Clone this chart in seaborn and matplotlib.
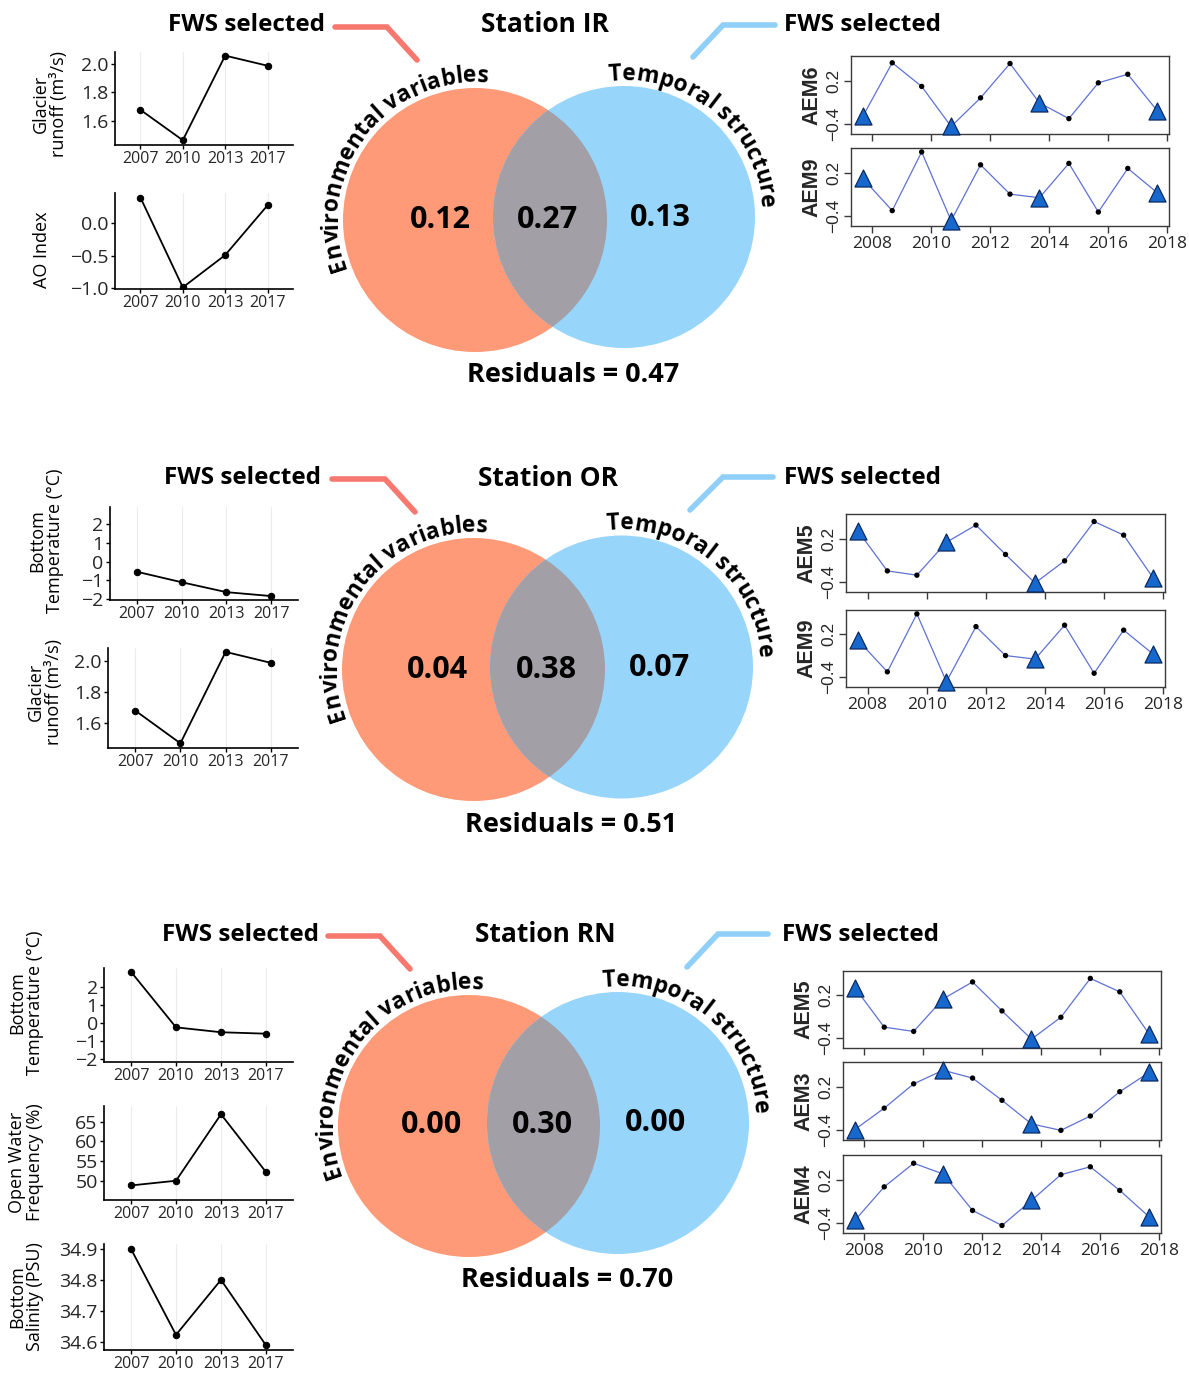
import numpy as np
import pandas as pd
import matplotlib
matplotlib.use("Agg")
import matplotlib.pyplot as plt
import seaborn as sns
from matplotlib.patches import Circle
from matplotlib.font_manager import FontProperties, findfont
from matplotlib.ft2font import FT2Font

sns.set_theme(style="white")
plt.rcParams["font.family"] = ["Open Sans", "DejaVu Sans"]
plt.rcParams["axes.unicode_minus"] = True

W, H = 1189, 1373
fig = plt.figure(figsize=(W / 100, H / 100), dpi=100)
fig.patch.set_facecolor("white")

# ---------------- data ----------------
env_years = ["2007", "2010", "2013", "2017"]
ir_glacier = [1.68, 1.47, 2.055, 1.985]
ir_ao = [0.40, -0.99, -0.49, 0.28]
or_temp = [-0.54, -1.10, -1.63, -1.84]
or_glacier = [1.68, 1.47, 2.055, 1.985]
rn_temp = [2.82, -0.24, -0.51, -0.59]
rn_openwater = [48.8, 50.0, 66.9, 52.2]
rn_salinity = [34.90, 34.622, 34.80, 34.588]

aem_years = [2007.67, 2008.67, 2009.67, 2010.67, 2011.67, 2012.67,
             2013.67, 2014.67, 2015.67, 2016.67, 2017.67]
aem_selected = [True, False, False, True, False, False, True, False, False, False, True]
aem6 = [-0.30, 0.45, 0.12, -0.44, -0.04, 0.44, -0.11, -0.33, 0.17, 0.29, -0.22]
aem9 = [0.12, -0.33, 0.49, -0.47, 0.31, -0.10, -0.15, 0.33, -0.35, 0.26, -0.08]
aem5 = [0.31, -0.25, -0.31, 0.15, 0.39, -0.02, -0.42, -0.11, 0.44, 0.25, -0.35]
aem3 = [-0.40, -0.10, 0.24, 0.43, 0.32, 0.01, -0.32, -0.41, -0.21, 0.13, 0.40]
aem4 = [-0.37, 0.10, 0.43, 0.28, -0.23, -0.44, -0.09, 0.27, 0.38, 0.05, -0.32]

stations = ["IR", "OR", "RN"]
env_only = [0.12, 0.04, 0.00]
shared = [0.27, 0.38, 0.30]
temporal_only = [0.13, 0.07, 0.00]
residuals = [0.47, 0.51, 0.70]

# ---------------- overlay (Venn + labels) ----------------
ax0 = fig.add_axes([0, 0, 1, 1])
ax0.set_xlim(0, W)
ax0.set_ylim(H, 0)
ax0.axis("off")

# ---------------- helpers ----------------
def px_rect(l, t, r, b):
    return [l / W, 1 - b / H, (r - l) / W, (b - t) / H]

MINUS = "\u2212"

def fmt(v, d):
    s = f"{v:.{d}f}"
    return s.replace("-", MINUS)

def env_panel(rect, vals, ylabel, ylim, yticks, ydec, label_xy):
    ax = fig.add_axes(px_rect(*rect))
    x = [0, 1, 2, 3]
    for xi in x:
        ax.axvline(xi, color="#ECECEC", lw=0.8, zorder=0)
    sns.lineplot(x=x, y=vals, ax=ax, color="black", lw=1.3, marker="o",
                 markersize=4.6, markeredgecolor="black", zorder=3)
    ax.set_xlim(-0.6, 3.6)
    ax.set_ylim(*ylim)
    ax.set_xticks(x, env_years, fontsize=11.5)
    ax.set_yticks(yticks, [fmt(v, ydec) for v in yticks], fontsize=14)
    for s in ["top", "right"]:
        ax.spines[s].set_visible(False)
    for s in ["left", "bottom"]:
        ax.spines[s].set_color("black")
        ax.spines[s].set_linewidth(1.2)
    ax.tick_params(axis="both", length=3, width=1, color="black", pad=1.5,
                   left=True, bottom=True)
    ax.set_xlabel("")
    ax.set_ylabel("")
    ax.grid(False)
    ax0.text(label_xy[0], label_xy[1], ylabel, rotation=90, ha="center", va="center",
             multialignment="center", fontsize=13, linespacing=1.0, color="black")
    return ax

def aem_panel(rect, vals, label, show_x):
    ax = fig.add_axes(px_rect(*rect))
    df = pd.DataFrame({"year": aem_years, "val": vals, "sel": aem_selected})
    sns.lineplot(data=df, x="year", y="val", ax=ax, color="#5E72D4", lw=0.9, zorder=2)
    sns.scatterplot(data=df[~df["sel"]], x="year", y="val", ax=ax, color="black",
                    s=15, edgecolor="none", zorder=3)
    sns.scatterplot(data=df[df["sel"]], x="year", y="val", ax=ax, marker="^",
                    s=150, color="#1768CC", edgecolor="#0B2A63", linewidth=0.9,
                    zorder=4, clip_on=False)
    ax.set_xlim(2007.27, 2018.07)
    ax.set_ylim(-0.545, 0.545)
    xt = [2008, 2010, 2012, 2014, 2016, 2018]
    ax.set_xticks(xt)
    if show_x:
        ax.set_xticklabels([str(v) for v in xt], fontsize=12.5)
    else:
        ax.set_xticklabels([])
    ax.set_yticks([-0.4, 0.2])
    ax.set_yticklabels([MINUS + "0.4", "0.2"], rotation=90, va="center",
                       fontsize=12.5, family=["Liberation Sans", "DejaVu Sans"])
    ax.set_xlabel("")
    ax.set_ylabel(label, fontsize=15.5, fontweight="bold",
                  family=["Liberation Sans", "DejaVu Sans"], labelpad=3)
    for s in ax.spines.values():
        s.set_visible(True)
        s.set_color("#3a3a3a")
        s.set_linewidth(1.0)
    ax.tick_params(axis="both", direction="out", length=5, width=1,
                   color="#3a3a3a", left=True, bottom=True, pad=2)
    ax.grid(False)
    ax.set_facecolor("white")
    return ax

ORANGE = "#FE9A77"
BLUE = "#98D5FB"
GRAY = "#A29FA6"
RED_LINE = "#F7786E"
BLUE_LINE = "#8FCFF8"

def char_advances(text, fp, fs):
    font = FT2Font(findfont(fp))
    font.set_size(fs, 100)
    out = []
    for ch in text:
        g = font.load_char(ord(ch))
        a = g.linearHoriAdvance / 65536.0
        if a <= 0 or a > fs * 3:
            a = g.horiAdvance / 64.0
        out.append(a)
    return out

def curved_text(text, cx, cy, R, center_deg, fs):
    fp = FontProperties(family="Open Sans", weight="bold", size=fs)
    advs = char_advances(text, fp, fs)
    total = sum(advs)
    pos = 0.0
    for ch, a in zip(text, advs):
        s = pos + a / 2 - total / 2
        th = np.deg2rad(center_deg) - s / R
        x = cx + R * np.cos(th)
        y = cy - R * np.sin(th)
        if ch.strip():
            ax0.text(x, y, ch, rotation=np.rad2deg(th) - 90, ha="center",
                     va="baseline", rotation_mode="anchor", fontproperties=fp,
                     color="black")
        pos += a

venn_layout = [
    dict(ec=(475, 220, 132), tc=(624, 217, 131), nums=((440, 220), (548, 220), (660, 218)),
         title=(545, 25), resid=(573, 375), fws_l=(246, 25), fws_r=(863, 25),
         red=((335, 27), (387, 27), (417, 60)), blue=((775, 25), (723, 25), (693, 57))),
    dict(ec=(473.5, 669.5, 131.5), tc=(621.5, 667, 131.5), nums=((437, 670), (546, 670), (659, 668)),
         title=(548, 478), resid=(571, 825), fws_l=(243, 478), fws_r=(862, 478),
         red=((332, 479), (385, 479), (415, 512)), blue=((773, 477), (723, 477), (690, 510))),
    dict(ec=(469, 1126, 131), tc=(618, 1123, 131), nums=((432, 1125), (542, 1125), (656, 1123)),
         title=(545, 935), resid=(567, 1280), fws_l=(240, 935), fws_r=(860, 935),
         red=((328, 936), (380, 936), (410, 969)), blue=((768, 934), (718, 934), (687, 967))),
]

for i, st in enumerate(stations):
    L = venn_layout[i]
    ecx, ecy, er = L["ec"]
    tcx, tcy, tr = L["tc"]
    c1 = Circle((ecx, ecy), er, facecolor=ORANGE, edgecolor="none", zorder=1)
    c2 = Circle((tcx, tcy), tr, facecolor=BLUE, edgecolor="none", zorder=1)
    ax0.add_patch(c1)
    ax0.add_patch(c2)
    c3 = Circle((tcx, tcy), tr, facecolor=GRAY, edgecolor="none", zorder=2)
    ax0.add_patch(c3)
    c3.set_clip_path(c1)
    vals = [env_only[i], shared[i], temporal_only[i]]
    for (x, y), v in zip(L["nums"], vals):
        ax0.text(x, y, f"{v:.2f}", ha="center", va="center", fontsize=22,
                 fontweight="bold", color="black", zorder=5)
    ax0.text(*L["title"], f"Station {st}", ha="center", va="center", fontsize=19,
             fontweight="bold", color="black")
    ax0.text(*L["resid"], f"Residuals = {residuals[i]:.2f}", ha="center", va="center",
             fontsize=19.5, fontweight="bold", color="black")
    ax0.text(*L["fws_l"], "FWS selected", ha="center", va="center", fontsize=17.5,
             fontweight="bold", color="black")
    ax0.text(*L["fws_r"], "FWS selected", ha="center", va="center", fontsize=17.5,
             fontweight="bold", color="black")
    rx, ry = zip(*L["red"])
    ax0.plot(rx, ry, color=RED_LINE, lw=4, solid_capstyle="round", solid_joinstyle="miter")
    bx, by = zip(*L["blue"])
    ax0.plot(bx, by, color=BLUE_LINE, lw=4, solid_capstyle="round", solid_joinstyle="miter")
    curved_text("Environmental variables", ecx, ecy, er + 6, 142.5, 16.5)
    curved_text("Temporal structure", tcx, tcy, tr + 6, 50, 16.5)

# ---------------- left panels ----------------
env_panel((115, 52, 293, 145), ir_glacier, "Glacier\nrunoff (m³/s)", (1.437, 2.08), [1.6, 1.8, 2.0], 1, (50, 104))
env_panel((115, 193, 293, 289), ir_ao, "AO Index", (-1.015, 0.47), [-1.0, -0.5, 0.0], 1, (42, 250))
env_panel((110, 507, 298, 600), or_temp, "Bottom\nTemperature (°C)", (-2.05, 2.92), [-2, -1, 0, 1, 2], 0, (46, 541))
env_panel((108, 648, 298, 748), or_glacier, "Glacier\nrunoff (m³/s)", (1.44, 2.08), [1.6, 1.8, 2.0], 1, (45, 692))
env_panel((104, 968, 293, 1062), rn_temp, "Bottom\nTemperature (°C)", (-2.15, 3.03), [-2, -1, 0, 1, 2], 0, (26, 1003))
env_panel((104, 1106, 293, 1200), rn_openwater, "Open Water\nFrequency (%)", (45.1, 69.0), [50, 55, 60, 65], 0, (26, 1162))
env_panel((104, 1244, 293, 1350), rn_salinity, "Bottom\nSalinity (PSU)", (34.573, 34.916), [34.6, 34.7, 34.8, 34.9], 1, (26, 1297))

# ---------------- AEM panels ----------------
aem_panel((851, 56, 1169, 134), aem6, "AEM6", False)
aem_panel((851, 148, 1169, 226), aem9, "AEM9", True)
aem_panel((846, 514, 1165, 592), aem5, "AEM5", False)
aem_panel((846, 610, 1165, 687), aem9, "AEM9", True)
aem_panel((843, 971, 1161, 1048), aem5, "AEM5", False)
aem_panel((843, 1062, 1161, 1140), aem3, "AEM3", False)
aem_panel((843, 1155, 1161, 1233), aem4, "AEM4", True)

fig.savefig("out.png", dpi=100, facecolor="white")
